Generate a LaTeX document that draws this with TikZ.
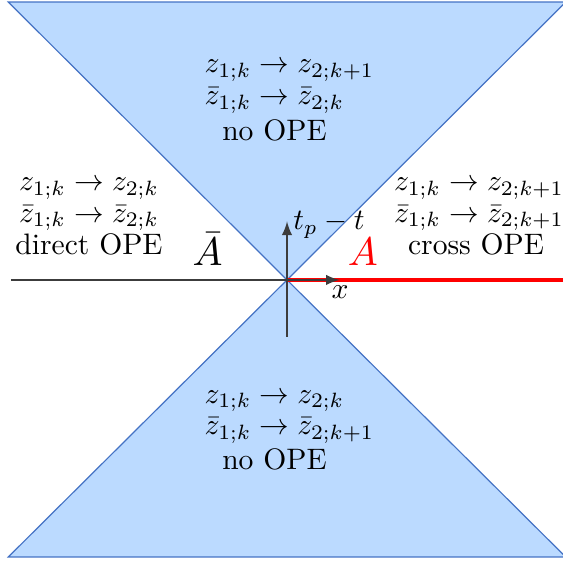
\documentclass[tikz,border=0pt]{standalone}
\usetikzlibrary{arrows}
\definecolor{conefill}{RGB}{187,218,255}
\definecolor{coneedge}{RGB}{68,114,196}
\definecolor{axisgray}{RGB}{60,60,60}
\tikzset{
  cone/.style={fill=conefill,draw=coneedge,line width=0.4pt,line join=miter},
  axisline/.style={draw=axisgray,line width=0.6pt},
  lbl/.style={inner sep=0pt,anchor=base},
  lblw/.style={inner sep=0pt,anchor=base west},
  region/.style={inner sep=0pt,anchor=base,scale=1.35}
}
\begin{document}
\begin{tikzpicture}
\useasboundingbox (-3.409,-3.337) rectangle (3.278,3.325);
\coordinate (O) at (0,0);
\coordinate (TL) at (-3.31,3.30);
\coordinate (TR) at (3.31,3.30);
\coordinate (BL) at (-3.31,-3.29);
\coordinate (BR) at (3.31,-3.29);
\draw[cone] (O) -- (TL) -- (TR) -- cycle;
\draw[cone] (O) -- (BL) -- (BR) -- cycle;
\coordinate (Lend) at (-3.28,0);
\coordinate (Rend) at (3.30,0);
\coordinate (Vbot) at (0,-0.675);
\coordinate (Vtop) at (0,0.695);
\coordinate (Xtip) at (0.625,0);
\draw[axisline] (Lend) -- (O);
\draw[red,line width=1.1pt] (O) -- (Rend);
\draw[axisline,-latex] (Vbot) -- (Vtop);
\draw[axisline,-latex] (O) -- (Xtip);
\node[lblw] (tlab) at (0.068,0.594) {$t_p-t$};
\node[lbl] (xlab) at (0.63,-0.217) {$x$};
\node[region,text=red] (Alab) at (0.90,0.17) {$A$};
\node[region] (Ablab) at (-0.944,0.17) {$\bar{A}$};
% top
\node[lblw] (t1) at (-0.986,2.462) {$z_{1;k}\to z_{2;k+1}$};
\node[lblw] (t2) at (-0.986,2.078) {$\bar{z}_{1;k}\to \bar{z}_{2;k}$};
\node[lblw] (t3) at (-0.776,1.654) {no OPE};
% bottom
\node[lblw] (b1) at (-0.986,-1.464) {$z_{1;k}\to z_{2;k}$};
\node[lblw] (b2) at (-0.986,-1.841) {$\bar{z}_{1;k}\to \bar{z}_{2;k+1}$};
\node[lblw] (b3) at (-0.776,-2.257) {no OPE};
% left
\node[lbl] (l1) at (-2.352,1.061) {$z_{1;k}\to z_{2;k}$};
\node[lbl] (l2) at (-2.352,0.685) {$\bar{z}_{1;k}\to \bar{z}_{2;k}$};
\node[lbl] (l3) at (-2.352,0.297) {direct OPE};
% right
\node[lbl] (r1) at (2.28,1.061) {$z_{1;k}\to z_{2;k+1}$};
\node[lbl] (r2) at (2.28,0.685) {$\bar{z}_{1;k}\to \bar{z}_{2;k+1}$};
\node[lbl] (r3) at (2.245,0.297) {cross OPE};
\end{tikzpicture}
\end{document}
